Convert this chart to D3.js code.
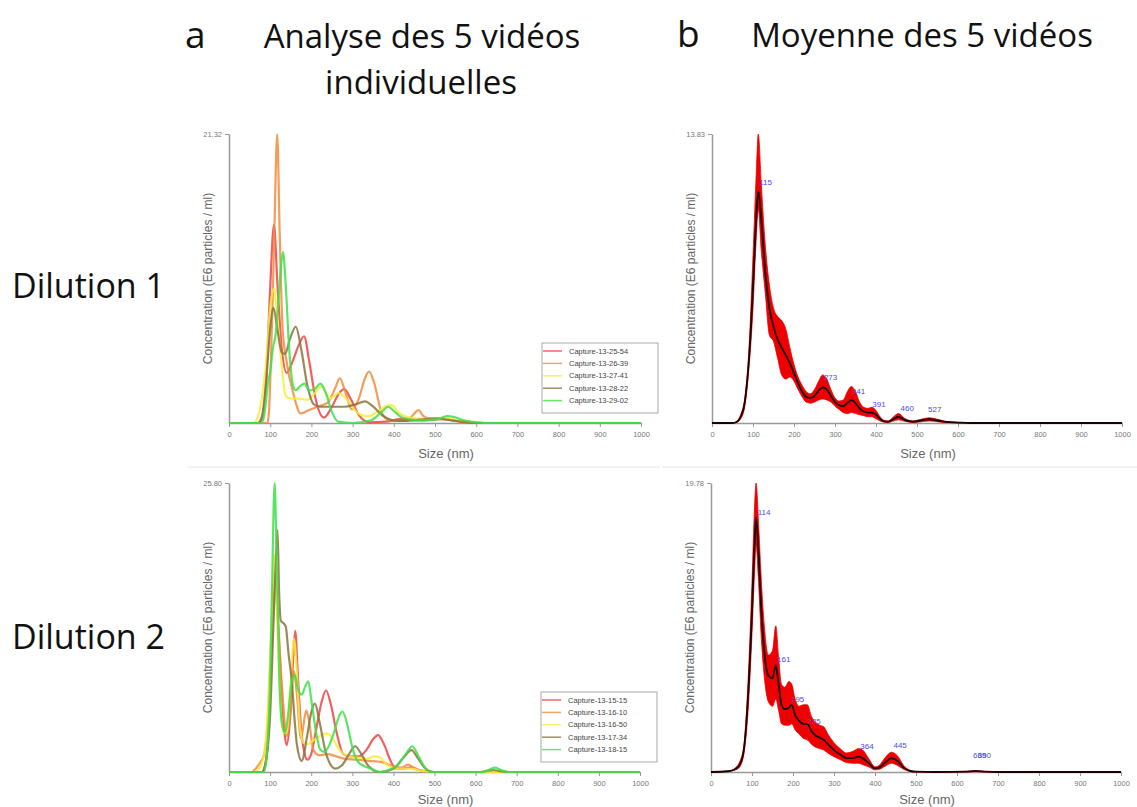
<!DOCTYPE html>
<html>
<head>
<meta charset="utf-8">
<script src="https://cdn.jsdelivr.net/npm/d3@7"></script>
<style>
  body { margin: 0; background: #fff; }
</style>
</head>
<body>
<script>
//////////////////////////////////////////////////////////////////////////////
// Data (size in nm, concentration in E6 particles / ml)

let sizeTicks = [0, 100, 200, 300, 400, 500, 600, 700, 800, 900, 1000];

let captureNamesD1 = ["Capture-13-25-54", "Capture-13-26-39", "Capture-13-27-41", "Capture-13-28-22", "Capture-13-29-02"];
let captureNamesD2 = ["Capture-13-15-15", "Capture-13-16-10", "Capture-13-16-50", "Capture-13-17-34", "Capture-13-18-15"];
let captureColors = ["#ee4444", "#f08c3c", "#f8ec3a", "#887440", "#3fe049"];

let yMaxD1 = 21.32;
let yMaxD1Mean = 13.83;
let yMaxD2 = 25.80;
let yMaxD2Mean = 19.78;

// Dilution 1, individual videos
let d1Capture2554 = [[0,0],[70,0],[80,0.3],[90,3],[100,10],[109,14.6],[118,10],[128,5.5],[140,3.7],[155,4.6],[170,5.8],[182,6.4],[195,4.5],[210,1.8],[230,0.4],[250,1.2],[265,2.1],[280,2.5],[295,1.8],[315,0.6],[340,0.05],[380,0.1],[420,0.3],[470,0.2],[520,0.3],[560,0.1],[600,0],[1000,0]];
let d1Capture2639 = [[0,0],[93,0],[97,0.8],[100,3],[105,8],[110,14],[117,21.3],[123,14],[130,7],[140,4.5],[156,2.2],[174,0.7],[190,0.9],[215,1.2],[240,1.5],[258,2.6],[269,3.3],[282,2.3],[298,1.0],[315,1.8],[330,3.3],[340,3.8],[352,3.0],[370,0.8],[390,0.2],[430,0.15],[450,0.7],[460,0.96],[472,0.5],[490,0.3],[530,0.25],[570,0.1],[610,0],[1000,0]];
let d1Capture2741 = [[0,0],[60,0],[68,0.3],[78,1.5],[90,4.5],[100,8.5],[109,9.9],[118,7.5],[128,4.2],[138,2.0],[150,1.8],[170,1.8],[189,1.7],[205,2.1],[225,2.7],[245,1.8],[265,2.2],[278,2.0],[292,1.5],[310,0.8],[335,0.5],[365,0.9],[385,1.3],[397,1.3],[410,0.8],[440,0.4],[480,0.3],[520,0.35],[560,0.2],[600,0.05],[650,0],[1000,0]];
let d1Capture2822 = [[0,0],[70,0],[80,0.5],[90,3],[100,7],[108,8.5],[118,6.8],[128,5.2],[136,5.1],[148,6.2],[162,7.1],[175,5.5],[190,2.8],[205,1.4],[220,1.2],[250,1.2],[280,1.2],[305,1.35],[330,1.6],[350,1.2],[375,0.5],[410,0.15],[450,0.2],[500,0.35],[540,0.2],[580,0.05],[620,0],[1000,0]];
let d1Capture2902 = [[0,0],[78,0],[85,0.5],[95,3],[100,3.8],[107,5.6],[113,6.5],[120,9],[126,11.5],[131,12.6],[138,10],[146,5.5],[155,2.8],[162,2.4],[172,2.7],[183,2.9],[195,2.4],[208,2.5],[222,2.9],[235,2.2],[250,0.8],[265,0.1],[300,0],[345,0.2],[370,0.8],[386,1.2],[400,0.9],[420,0.4],[460,0.2],[500,0.25],[530,0.5],[545,0.45],[570,0.2],[620,0],[1000,0]];

// Dilution 2, individual videos
let d2Capture1515 = [[0,0],[80,0],[90,1],[100,7],[107,14],[113,17],[120,13],[128,7],[135,3.5],[140,2.4],[148,4.5],[156,10],[161,12.6],[167,9],[175,4],[183,1.8],[190,1.1],[200,1.6],[212,3.8],[225,6.2],[236,7.3],[248,6],[262,3.5],[278,1.6],[295,1.4],[315,1.4],[335,2.0],[350,2.9],[363,3.3],[378,2.4],[393,1.0],[405,0.35],[420,0.3],[440,0.4],[460,0.2],[480,0.05],[500,0],[1000,0]];
let d2Capture1610 = [[0,0],[55,0],[65,0.3],[75,0.8],[85,1.5],[95,5],[103,12],[111,18],[117,15],[124,10.5],[132,6],[140,3.2],[150,5.5],[158,9],[165,7],[175,3],[188,5.5],[195,4.5],[205,2.0],[220,1.5],[240,1.6],[260,1.4],[280,1.2],[310,1.1],[340,1.0],[370,0.9],[400,0.5],[420,0.4],[435,0.65],[450,0.4],[470,0.1],[500,0],[1000,0]];
let d2Capture1650 = [[0,0],[60,0],[70,0.2],[80,0.8],[90,3],[100,10],[106,16],[110,19.5],[116,15],[124,7],[132,3.5],[140,3.5],[150,8],[158,11.9],[165,9],[173,4],[181,2.6],[192,2.5],[205,2.8],[220,3.2],[238,3.45],[252,3.0],[268,2.0],[285,1.5],[310,1.3],[335,1.2],[355,1.4],[368,1.3],[385,0.6],[410,0.3],[440,0.3],[470,0.1],[500,0],[1000,0]];
let d2Capture1734 = [[0,0],[80,0],[90,1],[100,5],[108,13],[114,19],[118,21.6],[122,16],[126,13.5],[132,13.3],[138,13],[145,10.5],[152,8.4],[160,4.5],[165,2.5],[177,1.0],[190,3.2],[200,5.3],[209,6.1],[220,4.5],[235,1.8],[250,0.5],[258,0.3],[275,0.6],[292,1.6],[307,2.3],[322,1.6],[340,0.5],[367,0],[400,0.3],[425,1.3],[444,1.96],[460,1.2],[478,0.3],[495,0],[610,0],[630,0.12],[643,0.18],[656,0.1],[680,0],[1000,0]];
let d2Capture1815 = [[0,0],[85,0],[92,1.5],[100,8],[105,17],[111,25.8],[116,19],[122,9],[128,4.5],[136,3.5],[145,5.5],[152,8],[160,8.7],[168,7.4],[177,6.9],[185,7.6],[193,8.1],[200,6.5],[213,3.3],[222,2.0],[232,1.8],[244,2.4],[256,3.6],[268,5.0],[276,5.4],[288,4.2],[300,2.2],[312,1.0],[325,0.6],[345,0.3],[367,0],[390,0.2],[410,0.6],[430,1.6],[446,2.3],[460,1.5],[475,0.5],[490,0],[620,0],[635,0.25],[647,0.39],[660,0.2],[680,0],[1000,0]];

// Dilution 1, mean of the 5 videos with its error band
let meanSizesD1 = [0,50,60,70,80,90,100,107,113,120,130,140,150,160,170,180,190,200,210,220,230,240,250,260,270,280,290,300,310,320,330,340,350,360,370,380,390,400,410,420,430,440,455,470,490,510,530,550,570,600,630,1000];
let meanD1  = [0,0,0.05,0.3,1.0,3.0,6.5,9.5,11.1,9.8,7.2,5.5,4.6,4.0,3.6,3.25,2.85,2.4,1.9,1.5,1.25,1.2,1.3,1.55,1.7,1.6,1.3,1.0,0.85,0.8,0.95,1.1,0.95,0.7,0.55,0.5,0.5,0.4,0.2,0.08,0.06,0.15,0.3,0.15,0.06,0.12,0.18,0.12,0.05,0.02,0,0];
let upperD1 = [0,0,0.08,0.4,1.2,3.5,8,11.5,13.83,11.5,8.5,6.6,5.5,5.1,4.9,4.5,3.6,2.8,2.2,1.8,1.5,1.4,1.6,2.0,2.3,2.1,1.6,1.2,1.05,1.1,1.5,1.75,1.5,1.0,0.75,0.7,0.75,0.6,0.3,0.12,0.1,0.25,0.45,0.22,0.1,0.18,0.25,0.18,0.08,0.03,0,0];
let lowerD1 = [0,0,0.03,0.2,0.8,2.6,5.5,8.5,10.2,8.3,6.2,4.2,3.9,3.1,2.3,2.1,2.2,2.0,1.6,1.25,1.0,0.95,1.0,1.1,1.15,1.1,1.0,0.8,0.65,0.5,0.45,0.5,0.45,0.4,0.35,0.3,0.3,0.2,0.1,0.04,0.03,0.08,0.15,0.08,0.03,0.06,0.1,0.06,0.02,0.01,0,0];
let peaksD1 = [[115, 11.1], [273, 1.75], [341, 1.1], [391, 0.5], [460, 0.3], [527, 0.25]];

// Dilution 2, mean of the 5 videos with its error band
let meanSizesD2 = [0,40,50,60,70,80,90,100,106,110,116,122,130,140,150,158,165,172,180,190,197,205,215,225,235,245,255,265,275,285,300,315,330,345,360,370,385,400,410,425,440,455,470,485,500,550,620,645,670,700,1000];
let meanD2  = [0,0.05,0.1,0.2,0.5,1.5,5.0,11.0,15.5,17.4,15,11.5,8.2,6.6,6.4,7.3,6.0,4.6,4.3,4.4,4.6,3.9,3.5,3.3,3.3,2.8,2.5,2.35,2.2,1.9,1.5,1.2,0.95,0.95,1.05,0.95,0.6,0.25,0.3,0.65,0.95,0.75,0.3,0.08,0.02,0,0.02,0.06,0.02,0,0];
let upperD2 = [0,0.05,0.1,0.3,0.7,1.8,6.0,13,18,19.78,17,13.5,10,8.0,8.3,10.0,7.8,6.0,5.8,6.2,6.0,5.0,4.5,4.6,4.6,3.8,3.4,3.2,3.1,2.6,2.0,1.6,1.3,1.4,1.6,1.5,0.9,0.35,0.45,1.0,1.35,1.1,0.45,0.12,0.03,0,0.03,0.1,0.03,0,0];
let lowerD2 = [0,0.05,0.1,0.15,0.35,1.2,4,9.5,13.5,15.5,13,9.5,6.5,4.8,4.5,5.0,4.2,3.3,3.2,3.2,3.3,2.9,2.6,2.3,2.2,1.9,1.7,1.6,1.5,1.3,1.05,0.85,0.65,0.6,0.6,0.5,0.35,0.15,0.18,0.4,0.6,0.45,0.18,0.04,0.01,0,0.01,0.03,0.01,0,0];
let peaksD2 = [[114, 17.2], [161, 7.1], [195, 4.4], [235, 2.9], [364, 1.15], [445, 1.2], [639, 0.55], [650, 0.55]];

//////////////////////////////////////////////////////////////////////////////
// Canvas

let width = 1137;
let height = 807;

let svg = d3.select("body").append("svg")
  .attr("width", width)
  .attr("height", height)
  .style("font-family", "'Liberation Sans', Arial, sans-serif");

// titles
let titleFont = "'Open Sans', sans-serif";
svg.append("text").attr("x", 185).attr("y", 48).style("font-family", titleFont)
  .style("font-size", "37px").attr("fill", "#111").text("a");
svg.append("text").attr("x", 677).attr("y", 47).style("font-family", titleFont)
  .style("font-size", "37px").attr("fill", "#111").text("b");
svg.append("text").attr("x", 422).attr("y", 48).attr("text-anchor", "middle")
  .style("font-family", titleFont).style("font-size", "33px").attr("fill", "#111")
  .text("Analyse des 5 vidéos");
svg.append("text").attr("x", 421).attr("y", 94).attr("text-anchor", "middle")
  .style("font-family", titleFont).style("font-size", "33px").attr("fill", "#111")
  .text("individuelles");
svg.append("text").attr("x", 922).attr("y", 47).attr("text-anchor", "middle")
  .style("font-family", titleFont).style("font-size", "33px").attr("fill", "#111")
  .text("Moyenne des 5 vidéos");
svg.append("text").attr("x", 12).attr("y", 298).style("font-family", titleFont)
  .style("font-size", "34px").attr("fill", "#111").text("Dilution 1");
svg.append("text").attr("x", 12).attr("y", 649).style("font-family", titleFont)
  .style("font-size", "34px").attr("fill", "#111").text("Dilution 2");

// faint separators under the top plots
svg.append("line").attr("x1", 187).attr("x2", 660).attr("y1", 467).attr("y2", 467)
  .attr("stroke", "#e6e6e6");
svg.append("line").attr("x1", 662).attr("x2", 1137).attr("y1", 467).attr("y2", 467)
  .attr("stroke", "#e6e6e6");

//////////////////////////////////////////////////////////////////////////////
// Helpers

function makeScales(box, yMax) {
  let x = d3.scaleLinear().domain([0, 1000]).range([box.x0, box.x1]);
  let y = d3.scaleLinear().domain([0, yMax]).range([box.base, box.top]);
  return [x, y];
}

function drawAxes(g, box, x, y, yMax) {
  let xAxis = d3.axisBottom(x).tickValues(sizeTicks).tickFormat(d3.format("d")).tickSize(4).tickSizeOuter(0);
  let gx = g.append("g")
    .attr("transform", `translate(0,${box.base})`)
    .call(xAxis);
  gx.select(".domain").attr("stroke", "#999").attr("stroke-width", 1.5);
  gx.selectAll(".tick line").attr("stroke", "#999");
  gx.selectAll(".tick text").attr("fill", "#777").style("font-size", "7.5px").attr("dy", "0.9em");

  let yAxis = d3.axisLeft(y).tickValues([yMax]).tickFormat(d3.format(".2f")).tickSize(4).tickSizeOuter(0);
  let gy = g.append("g")
    .attr("transform", `translate(${box.x0},0)`)
    .call(yAxis);
  gy.select(".domain").attr("stroke", "#999").attr("stroke-width", 1.5);
  gy.selectAll(".tick line").attr("stroke", "#999");
  gy.selectAll(".tick text").attr("fill", "#777").style("font-size", "7.5px");

  g.append("text")
    .attr("x", (box.x0 + box.x1) / 2 + 11)
    .attr("y", Math.min(box.base + 35, 804))
    .attr("text-anchor", "middle")
    .attr("fill", "#666")
    .style("font-size", "13px")
    .text("Size (nm)");
  g.append("text")
    .attr("transform", `translate(${box.x0 - 21},${(box.top + box.base) / 2}) rotate(-90)`)
    .attr("text-anchor", "middle")
    .attr("dy", "0.35em")
    .attr("fill", "#666")
    .style("font-size", "12px")
    .text("Concentration (E6 particles / ml)");
}

function drawIndividual(box, yMax, series, names) {
  let g = svg.append("g");
  let [x, y] = makeScales(box, yMax);
  drawAxes(g, box, x, y, yMax);

  let line = d3.line()
    .x(d => x(d[0]))
    .y(d => y(d[1]))
    .curve(d3.curveMonotoneX);

  g.selectAll("path.capture")
    .data(series)
    .join("path")
    .attr("class", "capture")
    .attr("d", line)
    .attr("fill", "none")
    .attr("stroke", (d, i) => captureColors[i])
    .attr("stroke-width", 2.2)
    .attr("stroke-opacity", 0.85);

  // legend
  let legend = g.append("g")
    .attr("transform", `translate(${box.x1 - 99},${box.top + 209})`);
  legend.append("rect")
    .attr("width", 116)
    .attr("height", 70)
    .attr("fill", "#fff")
    .attr("stroke", "#aaa");
  let rows = legend.selectAll("g.row")
    .data(names)
    .join("g")
    .attr("class", "row")
    .attr("transform", (d, i) => `translate(0,${8 + i * 12.4})`);
  rows.append("line")
    .attr("x1", 1).attr("x2", 20)
    .attr("stroke", (d, i) => captureColors[i])
    .attr("stroke-width", 1.5)
    .attr("stroke-opacity", 0.8);
  rows.append("text")
    .attr("x", 27)
    .attr("dy", "0.35em")
    .attr("fill", "#444")
    .style("font-size", "7.5px")
    .text(d => d);
}

function drawMean(box, yMax, sizes, mean, upper, lower, peaks) {
  let g = svg.append("g");
  let [x, y] = makeScales(box, yMax);
  drawAxes(g, box, x, y, yMax);

  let idx = d3.range(sizes.length);
  let band = d3.area()
    .x(i => x(sizes[i]))
    .y0(i => y(lower[i]))
    .y1(i => y(upper[i]))
    .curve(d3.curveMonotoneX);
  let line = d3.line()
    .x(i => x(sizes[i]))
    .y(i => y(mean[i]))
    .curve(d3.curveMonotoneX);

  g.append("path")
    .datum(idx)
    .attr("d", band)
    .attr("fill", "#ee0000")
    .attr("stroke", "#ee0000")
    .attr("stroke-width", 0.8);
  g.append("path")
    .datum(idx)
    .attr("d", line)
    .attr("fill", "none")
    .attr("stroke", "#1a0000")
    .attr("stroke-width", 1.8);

  g.selectAll("text.peak")
    .data(peaks)
    .join("text")
    .attr("class", "peak")
    .attr("x", d => x(d[0]))
    .attr("y", d => y(d[1]) - 6)
    .attr("fill", "#4a4aee")
    .style("font-size", "8px")
    .text(d => d[0]);
}

//////////////////////////////////////////////////////////////////////////////
// The four plots

drawIndividual({x0: 229, x1: 641, top: 134, base: 423}, yMaxD1,
  [d1Capture2554, d1Capture2639, d1Capture2741, d1Capture2822, d1Capture2902], captureNamesD1);
drawMean({x0: 712, x1: 1122, top: 134, base: 423}, yMaxD1Mean,
  meanSizesD1, meanD1, upperD1, lowerD1, peaksD1);
drawIndividual({x0: 229, x1: 640, top: 483, base: 772}, yMaxD2,
  [d2Capture1515, d2Capture1610, d2Capture1650, d2Capture1734, d2Capture1815], captureNamesD2);
drawMean({x0: 711, x1: 1121, top: 483, base: 772}, yMaxD2Mean,
  meanSizesD2, meanD2, upperD2, lowerD2, peaksD2);
</script>
</body>
</html>
